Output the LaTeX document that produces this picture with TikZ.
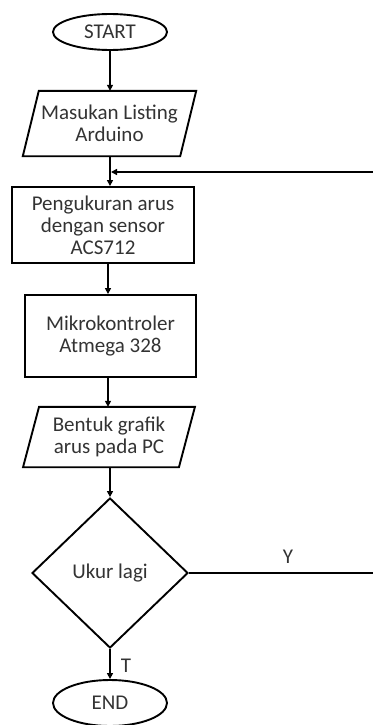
\documentclass[tikz,border=0pt]{standalone}
\usepackage{fontspec}
\setmainfont{Carlito}
\usetikzlibrary{shapes.geometric,arrows.meta}
\begin{document}
\begin{tikzpicture}[x=1pt,y=1pt,
  every node/.style={font=\fontsize{21}{22}\selectfont, text=black!80},
  line/.style={draw=black, line width=1.9pt},
  arr/.style={line, -{Triangle[length=6pt,width=6pt]}},
  term/.style={ellipse, line, minimum width=114pt, inner sep=0pt},
  procbox/.style={rectangle, line, align=center, inner sep=0pt},
  paratext/.style={rectangle, align=center, inner sep=0pt},
  decbox/.style={diamond, line, minimum width=156pt, minimum height=150pt, inner sep=0pt},
  lbl/.style={font=\fontsize{21}{22}\selectfont}
]
\useasboundingbox (0,0) rectangle (372,-725);

\node[term, minimum height=36pt] (start) at (110,-32) {START};

\node[paratext, minimum width=157pt, minimum height=65pt] (in1) at (109.5,-123.5) {Masukan Listing\\Arduino};
\draw[line] ([xshift=8pt]in1.north west) -- ([xshift=8pt]in1.north east) -- ([xshift=-8pt]in1.south east) -- ([xshift=-8pt]in1.south west) -- cycle;

\node[procbox, minimum width=182pt, minimum height=76pt] (box1) at (103,-225) {Pengukuran arus\\dengan sensor\\ACS712};

\node[procbox, minimum width=171pt, minimum height=82pt] (box2) at (110.5,-336) {Mikrokontroler\\Atmega 328};

\node[paratext, minimum width=155.5pt, minimum height=60pt] (out1) at (109,-437) {Bentuk grafik\\arus pada PC};
\draw[line] ([xshift=8pt]out1.north west) -- ([xshift=8pt]out1.north east) -- ([xshift=-8pt]out1.south east) -- ([xshift=-8pt]out1.south west) -- cycle;

\node[decbox] (dec) at (110,-573) {Ukur lagi};

\node[term, minimum height=46pt] (end) at (110,-703) {END};

\coordinate (fb) at (111,-172);
\coordinate (corner) at (376,-573);

\draw[arr] (start.south) -- (start.south |- in1.north);
\draw[line] ([xshift=0.5pt]in1.south) -- ([xshift=0.5pt]in1.south |- fb);
\draw[arr] ([xshift=0.5pt]in1.south |- fb) -- ([xshift=0.5pt]in1.south |- box1.north);
\draw[arr] ([xshift=5pt]box1.south) -- ([xshift=5pt]box1.south |- box2.north);
\draw[arr] ([xshift=-2.5pt]box2.south) -- ([xshift=-2.5pt]box2.south |- out1.north);
\draw[arr] ([xshift=1pt]out1.south) -- ([xshift=1pt]out1.south |- dec.north);
\draw[arr] (dec.south) -- (dec.south |- end.north);
\draw[arr] (dec.east) -- (corner) |- (fb);

\node[lbl] (ylab) at (288,-557) {Y};
\node[lbl] (tlab) at (126,-666) {T};
\end{tikzpicture}
\end{document}
